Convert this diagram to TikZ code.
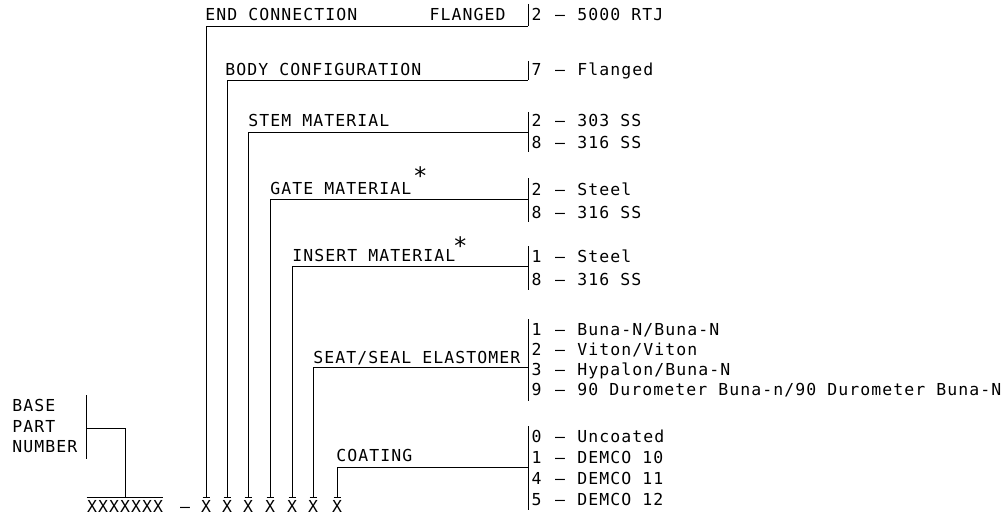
\documentclass[tikz,border=0pt]{standalone}
\usepackage{fontspec}
\setmainfont{DejaVu Sans Mono}[LetterSpace=6.5]
\usetikzlibrary{positioning}

\begin{document}
\begin{tikzpicture}[x=1pt,y=-1pt,line width=0.8pt,
  every node/.style={inner sep=0pt,text height=12pt,text depth=0pt,
    font=\fontsize{16.5}{20}\selectfont},
  lab/.style={anchor=west},
  digit/.style={anchor=center},
  xmark/.style={anchor=center,outer ysep=2.5pt},
  starmark/.style={anchor=west,font=\fontsize{24}{24}\selectfont}]
\useasboundingbox (0,0) rectangle (1006,516);

% part number line
\node[xmark] (base) at (125,506) {XXXXXXX};
\node[digit] (sep) at (185,506) {–};
\foreach \n/\xx in {1/206,2/227,3/248,4/270,5/292,6/313,7/337}{
  \node[xmark] (x\n) at (\xx,506) {X};
  \draw ([xshift=-3.5pt]x\n.north) -- ([xshift=3.5pt]x\n.north);
}
\draw (base.north west) -- (base.north east);

% base part number
\node[lab] (bp1) at (12,405) {BASE};
\node[lab] (bp2) at (12,426) {PART};
\node[lab] (bp3) at (12,446) {NUMBER};
\coordinate (bpj) at (86,428);
\draw (86,395) -- (86,459);
\draw (base.north) |- (bpj);

% field labels
\node[lab] (endc) at (205,15) {END CONNECTION};
\node[anchor=east] (flg) at (506,15) {FLANGED};
\node[lab] (body) at (225,70) {BODY CONFIGURATION};
\node[lab] (stem) at (248,121) {STEM MATERIAL};
\node[lab] (gate) at (270,188) {GATE MATERIAL};
\node[starmark,right=1pt of gate.east,yshift=10pt] (gatestar) {*};
\node[lab] (ins) at (292,255) {INSERT MATERIAL};
\node[starmark,right=-3pt of ins.east,yshift=6.5pt] (insstar) {*};
\node[lab] (seat) at (313,357) {SEAT/SEAL ELASTOMER};
\node[lab] (coat) at (336,455) {COATING};

% joints on the option bars
\coordinate (j1) at (528,26);
\coordinate (j2) at (528,80);
\coordinate (j3) at (528,132);
\coordinate (j4) at (528,199);
\coordinate (j5) at (528,266);
\coordinate (j6) at (528,367);
\coordinate (j7) at (528,467);
\draw (528,4) -- (j1);
\draw (528,61) -- (j2);
\draw (528,112) -- (528,152);
\draw (528,178) -- (528,222);
\draw (528,246) -- (528,290);
\draw (528,319) -- (528,401);
\draw (528,426) -- (528,510);
\foreach \n in {1,...,7}
  \draw (x\n.north) |- (j\n);

% options
\foreach \k/\yy/\num/\txt in {
  a/15/2/{5000 RTJ}, b/70/7/{Flanged},
  c/121/2/{303 SS}, d/142/8/{316 SS},
  e/189/2/{Steel}, f/212/8/{316 SS},
  g/256/1/{Steel}, h/279/8/{316 SS},
  i/329/1/{Buna-N/Buna-N}, j/349/2/{Viton/Viton},
  k/369/3/{Hypalon/Buna-N}, l/389/9/{90 Durometer Buna-n/90 Durometer Buna-N},
  m/436/0/{Uncoated}, n/457/1/{DEMCO 10},
  o/478/4/{DEMCO 11}, p/499/5/{DEMCO 12}}{
  \node[digit] (\k num) at (536.5,\yy) {\num};
  \node[digit] (\k sep) at (560,\yy) {–};
  \node[lab] (\k txt) at (577,\yy) {\txt};
}
\end{tikzpicture}
\end{document}
